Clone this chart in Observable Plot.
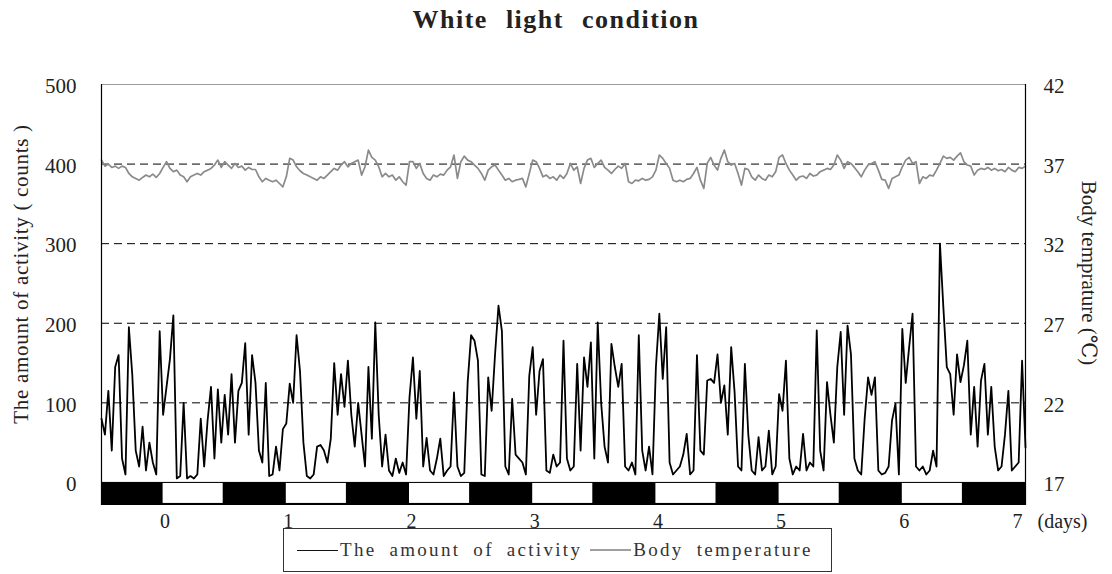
<!DOCTYPE html>
<html>
<head>
<meta charset="utf-8">
<script src="https://cdn.jsdelivr.net/npm/d3@7"></script>
<script src="https://cdn.jsdelivr.net/npm/@observablehq/plot@0.6"></script>
<style>
  :root { --serif: "Liberation Serif", "Tinos", "Times New Roman", "Times", "DejaVu Serif", "Noto Serif", serif; }
  body { margin: 0; background: #fff; font-family: var(--serif); color: #222; }
  #wrap { position: relative; width: 1112px; height: 574px; overflow: hidden; }
  #chart { position: absolute; left: 0; top: 0; }
  #title { position: absolute; top: 7px; left: 0; width: 1112px; text-align: center; font-weight: bold;
           font-size: 26px; line-height: 26px; letter-spacing: 1.5px; word-spacing: 10px; color: #222;
           font-family: var(--serif); }
  .ytitle { position: absolute; white-space: nowrap; line-height: 21px; color: #222; font-family: var(--serif); }
  #ltitle { left: 21px; top: 274px; font-size: 21px; letter-spacing: 0.7px; transform: translate(-50%, -50%) rotate(-90deg); }
  #rtitle { left: 1088px; top: 273px; font-size: 21px; transform: translate(-50%, -50%) rotate(90deg); }
  #legend { position: absolute; left: 283px; top: 528px; width: 549px; height: 44px; box-sizing: border-box;
            border: 1px solid #333; display: flex; align-items: center; padding-left: 13px;
            font-family: var(--serif);
            font-size: 19px; letter-spacing: 2.3px; word-spacing: 6px; color: #333; white-space: nowrap; background: #fff; }
  .sw { display: inline-block; width: 41px; height: 0; margin-right: 2px; }
  .txt { margin-right: 8px; }
  #chart svg text { font-family: var(--serif); }
</style>
</head>
<body>
<div id="wrap">
  <div id="chart"></div>
  <div id="title">White light condition</div>
  <div class="ytitle" id="ltitle">The amount of activity ( counts )</div>
  <div class="ytitle" id="rtitle">Body temprature (℃)</div>
  <div id="legend">
    <span class="sw" style="border-top:1.2px solid #111"></span><span class="txt">The amount of activity</span>
    <span class="sw" style="border-top:2px solid #a0a0a0"></span><span>Body temperature</span>
  </div>
</div>
<script>
// sampling: one reading every 40 minutes, starting half a day before day 0
const startDay = -0.5;
const stepDays = 1 / 36;

// activity counts
const activity = [
  80,60,115,40,145,160,30,10,195,135,40,20,70,15,50,25,10,190,85,120,155,210,5,8,100,5,8,5,10,80,20,78,120,30,117,50,110,60,136,50,115,125,175,60,160,
  125,40,25,125,8,10,45,15,67,74,124,100,185,140,50,8,5,10,45,47,40,25,55,150,85,136,95,153,85,45,100,60,20,145,55,201,85,20,60,15,8,30,12,25,10,107,
  157,80,140,20,56,15,10,30,55,8,15,20,113,20,8,12,126,185,178,153,10,8,132,90,161,222,190,20,10,105,35,30,25,10,134,170,85,140,155,15,12,35,20,25,178,
  30,15,20,149,40,157,120,176,30,201,100,45,25,174,145,120,149,20,15,25,10,185,40,15,45,10,145,212,130,195,25,10,15,20,35,61,10,15,160,40,35,128,130,125,161,
  100,122,60,170,113,20,15,149,60,15,10,57,15,20,65,10,20,111,90,153,30,10,20,15,61,15,25,20,191,40,15,126,85,50,145,189,85,197,161,30,15,10,80,132,110,132,
  15,10,12,20,78,99,10,193,125,170,212,20,15,20,10,15,40,20,300,220,145,136,85,161,126,147,178,60,120,45,128,149,60,120,45,15,20,60,115,15,20,25,153,44
];

// body temperature in °C
const temperature = [
  37.25,36.87,37.0,36.79,36.87,36.73,36.87,36.79,36.41,36.2,36.1,35.99,36.16,36.31,36.2,36.37,36.16,36.41,36.79,37.15,36.73,36.52,36.62,36.31,36.2,35.89,36.2,36.31,36.41,36.31,36.52,36.62,36.73,36.94,37.25,36.79,37.15,36.94,36.73,37.04,36.79,36.87,36.62,36.79,36.66,
  36.66,36.2,35.89,36.1,35.99,35.89,35.99,35.78,35.57,36.2,37.36,37.25,36.83,36.58,36.41,36.31,36.2,36.1,35.99,36.2,36.1,36.31,36.52,36.73,36.62,36.94,37.15,36.83,37.04,37.15,37.25,36.31,36.83,37.88,37.42,37.25,36.83,36.2,36.41,36.2,36.31,35.99,36.2,35.89,35.68,37.15,
  37.15,36.73,37.04,36.41,36.1,35.99,36.31,36.2,36.37,36.31,36.62,36.83,37.57,36.1,37.15,37.5,37.25,37.15,36.94,36.73,36.41,35.99,36.62,36.83,36.94,36.62,36.31,35.99,36.1,35.89,35.99,36.04,36.1,35.57,36.41,37.25,37.15,36.73,36.2,36.31,36.1,36.2,35.99,36.31,36.1,
  36.41,37.04,36.62,36.83,35.78,36.73,37.25,37.36,36.79,37.04,37.25,36.79,36.62,36.41,36.66,36.87,36.73,37.04,35.89,35.78,35.99,35.95,36.1,35.99,36.04,36.2,36.62,37.57,37.36,37.04,36.73,35.99,35.89,35.99,35.89,36.04,36.1,36.41,36.79,35.99,35.47,37.04,37.42,36.94,36.62,
  37.36,37.88,37.15,36.94,37.04,36.41,35.68,36.73,36.66,36.2,35.99,36.31,36.1,35.99,36.31,36.2,36.52,37.42,37.57,37.04,36.62,36.31,35.99,36.2,36.25,36.1,36.41,36.25,36.31,36.52,36.62,36.73,36.66,36.94,37.57,37.25,36.73,37.15,37.04,36.79,36.52,36.2,36.62,36.94,37.04,37.15,
  36.62,36.04,35.99,35.47,36.1,36.2,36.31,36.83,37.25,37.42,37.04,37.15,35.78,36.2,36.1,36.31,36.25,36.62,37.04,37.5,37.36,37.42,37.25,37.5,37.71,37.15,36.94,36.87,36.31,36.62,36.73,36.66,36.79,36.62,36.73,36.58,36.66,36.52,36.79,36.62,36.52,36.79,36.73,36.87
];

// light/dark schedule (days)
const darkStarts = [-0.5, 0.5, 1.5, 2.5, 3.5, 4.5, 5.5, 6.5];
const lightStarts = [0, 1, 2, 3, 4, 5, 6];

// tick labels
const activityTicks = [0, 100, 200, 300, 400, 500];
const tempTicks = [17, 22, 27, 32, 37, 42];
const dayTicks = [0, 1, 2, 3, 4, 5, 6];
const lastDayLabel = "7\u00a0\u00a0\u00a0(days)";

// right axis: 17 °C ↔ 0 counts, 42 °C ↔ 500 counts
const tempToY = t => (t - 17) * 20;

const act = activity.map((v, i) => ({day: startDay + i * stepDays, v}));
const tmp = temperature.map((t, i) => ({day: startDay + i * stepDays, t}));

const serif = "'Liberation Serif', Tinos, 'Times New Roman', Times, 'DejaVu Serif', 'Noto Serif', serif";

const chart = Plot.plot({
  width: 1112,
  height: 574,
  marginTop: 84,
  marginBottom: 69,
  marginLeft: 101,
  marginRight: 87,
  style: {fontFamily: serif, fontSize: "21px", color: "#222", background: "transparent"},
  x: {domain: [-0.5, 7]},
  y: {domain: [-29, 500]},
  marks: [
    // light/dark band
    Plot.rect([0], {x1: -0.5, x2: 7, y1: -29, y2: 0, fill: "#000"}),
    Plot.rect(lightStarts, {x1: d => d, x2: d => d + 0.5, y1: -26.4, y2: -1.3, fill: "#fff", insetRight: 1.5}),
    // grid
    Plot.ruleY([100, 200, 300, 400], {stroke: "#000", strokeWidth: 1, strokeDasharray: "8,5"}),
    Plot.ruleY([500], {stroke: "#9a9a9a", strokeWidth: 1.2}),
    // series
    Plot.line(tmp, {x: "day", y: d => tempToY(d.t), stroke: "#8a8a8a", strokeWidth: 1.7}),
    Plot.line(act, {x: "day", y: "v", stroke: "#000", strokeWidth: 1.8}),
    // frame
    Plot.ruleX([-0.5, 7], {y1: -29, y2: 500, stroke: "#000", strokeWidth: 1.2}),
    // axes
    Plot.axisY(activityTicks, {anchor: "left", tickSize: 0, tickPadding: 25, label: null, dy: 2}),
    Plot.axisY(tempTicks.map(tempToY), {anchor: "right", tickSize: 0, tickPadding: 18, label: null, dy: 2,
      tickFormat: (v, i) => String(tempTicks[i])}),
    Plot.axisX(dayTicks, {anchor: "bottom", tickSize: 0, tickPadding: 8, label: null, fontSize: 20, dx: 2,
      tickFormat: d => String(d)}),
    Plot.text([7], {x: d => d, y: -29, text: [lastDayLabel], textAnchor: "start", lineAnchor: "top",
      dx: -13, dy: 8, fontSize: 20, fill: "#222"})
  ]
});
document.getElementById("chart").appendChild(chart);
</script>
</body>
</html>
